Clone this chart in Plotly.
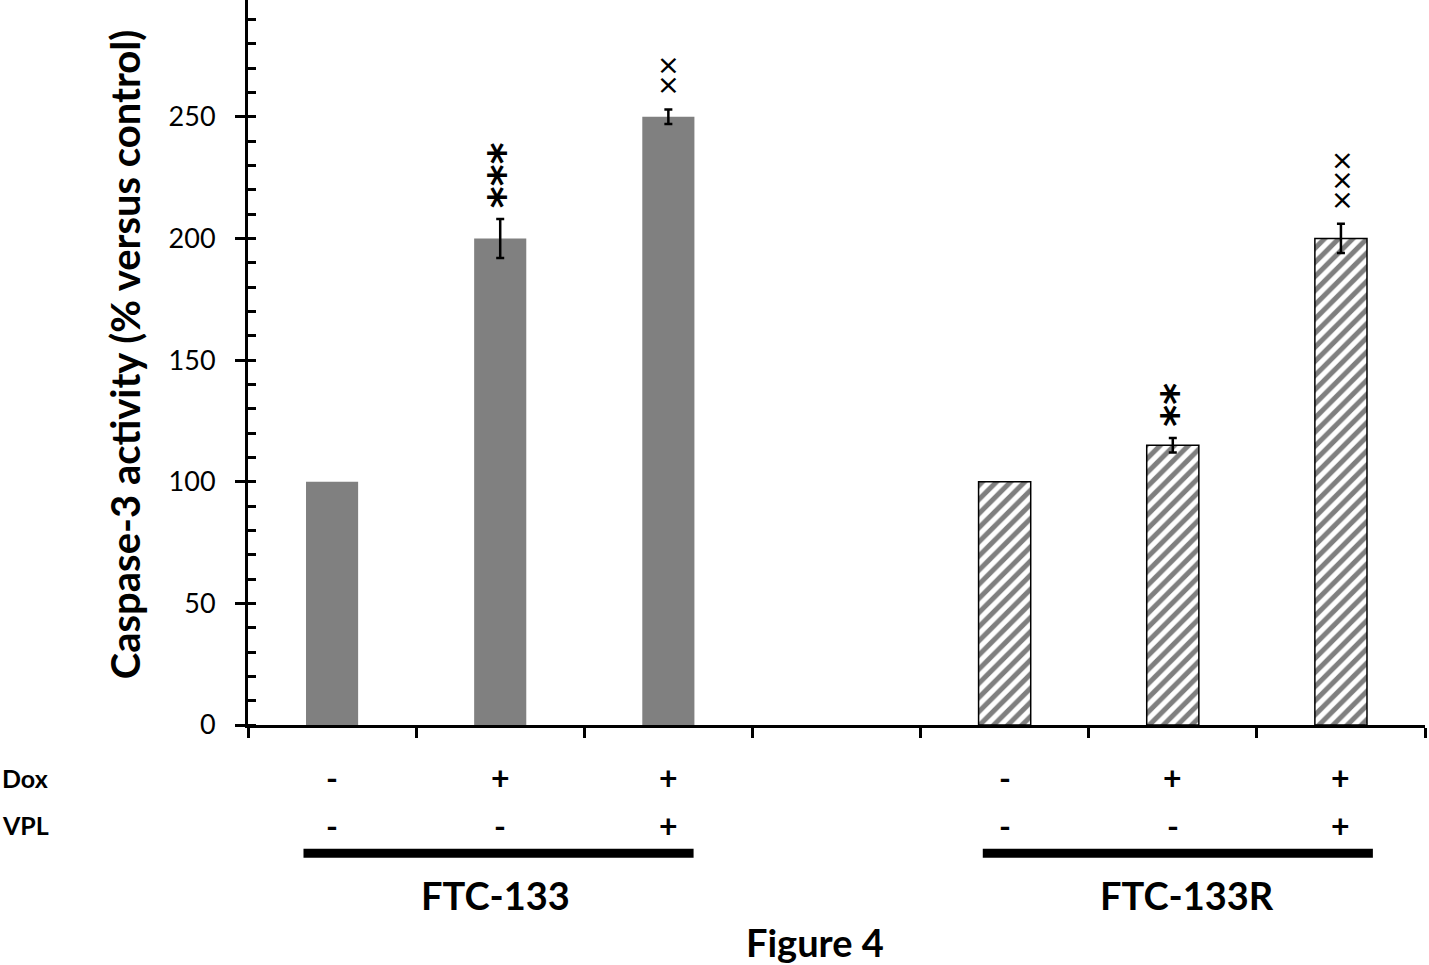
import plotly.graph_objects as go

# ---- data ----
categories = ["FTC-133 a", "FTC-133 b", "FTC-133 c", " ", "FTC-133R a", "FTC-133R b", "FTC-133R c"]
ftc_cats = ["FTC-133 a", "FTC-133 b", "FTC-133 c"]
ftc_vals = [100, 200, 250]
ftc_err = [None, 8, 3]
ftc_marks = ["", "***", "××"]

ftcr_cats = ["FTC-133R a", "FTC-133R b", "FTC-133R c"]
ftcr_vals = [100, 115, 200]
ftcr_err = [None, 3, 6]
ftcr_marks = ["", "**", "×××"]

dox = ["-", "+", "+", "-", "+", "+"]
vpl = ["-", "-", "+", "-", "-", "+"]
group_labels = ["FTC-133", "FTC-133R"]
y_title = "Caspase-3 activity (% versus control)"
fig_caption = "Figure 4"

FONT = "Lato"


def err_array(errs):
    # "NaN" strings make plotly.js skip the error bar for that point
    return ["NaN" if e is None else e for e in errs]


fig = go.Figure()

fig.add_trace(go.Bar(
    x=ftc_cats, y=ftc_vals, width=0.31,
    marker=dict(color="#808080", line=dict(width=0)),
    error_y=dict(type="data", array=err_array(ftc_err), visible=True, color="black", thickness=2.5, width=4),
    showlegend=False,
))
fig.add_trace(go.Bar(
    x=ftcr_cats, y=ftcr_vals, width=0.31,
    marker=dict(color="white", line=dict(color="black", width=1.5),
                pattern=dict(shape="/", fgcolor="black", bgcolor="white", size=10, solidity=0.5)),
    error_y=dict(type="data", array=err_array(ftcr_err), visible=True, color="black", thickness=2.5, width=4),
    showlegend=False,
))

annotations = []
# significance marks stacked vertically above error bars (rotated text = vertical stack)
for cats, vals, errs, marks in [(ftc_cats, ftc_vals, ftc_err, ftc_marks),
                                (ftcr_cats, ftcr_vals, ftcr_err, ftcr_marks)]:
    for c, v, e, m in zip(cats, vals, errs, marks):
        if not m:
            continue
        top = v + (e or 0)
        if m[0] == "*":
            fnt = dict(family="DejaVu Sans", size=42, color="black")
            ys, xs = 9, 5
            txt = "<b>%s</b>" % m
        else:
            fnt = dict(family="Lato", size=34, color="black")
            ys, xs = 12, -1
            txt = m
        annotations.append(dict(x=c, y=top, xref="x", yref="y", text=txt, showarrow=False, textangle=-90,
                                xanchor="center", yanchor="bottom", yshift=ys, xshift=xs, font=fnt))

# Dox / VPL rows
bar_cats = ftc_cats + ftcr_cats
for c, d, p in zip(bar_cats, dox, vpl):
    annotations.append(dict(x=c, y=-0.073, xref="x", yref="paper", text="<b>%s</b>" % d, showarrow=False,
                            xanchor="center", yanchor="middle", font=dict(family=FONT, size=32, color="black")))
    annotations.append(dict(x=c, y=-0.138, xref="x", yref="paper", text="<b>%s</b>" % p, showarrow=False,
                            xanchor="center", yanchor="middle", font=dict(family=FONT, size=32, color="black")))

for lab, yy in [("Dox", -0.073), ("VPL", -0.138)]:
    annotations.append(dict(x=0, y=yy, xref="paper", yref="paper", text="<b>%s</b>" % lab, showarrow=False,
                            xanchor="left", yanchor="middle", xshift=-248,
                            font=dict(family=FONT, size=25, color="black")))

# group labels
annotations.append(dict(x=1, y=-0.234, xref="x", yref="paper", text="<b>%s</b>" % group_labels[0],
                        showarrow=False, xanchor="center", yanchor="middle", xshift=-5,
                        font=dict(family=FONT, size=38, color="black")))
annotations.append(dict(x=5, y=-0.234, xref="x", yref="paper", text="<b>%s</b>" % group_labels[1],
                        showarrow=False, xanchor="center", yanchor="middle", xshift=14,
                        font=dict(family=FONT, size=38, color="black")))
annotations.append(dict(x=3, y=-0.299, xref="x", yref="paper", text="<b>%s</b>" % fig_caption,
                        showarrow=False, xanchor="center", yanchor="middle", xshift=-22,
                        font=dict(family=FONT, size=38, color="black")))
# y title
annotations.append(dict(x=-0.1045, y=0.510, xref="paper", yref="paper", text="<b>%s</b>" % y_title,
                        showarrow=False, textangle=-90, xanchor="center", yanchor="middle",
                        font=dict(family=FONT, size=40, color="black")))

shapes = [
    dict(type="line", xref="x", yref="paper", x0=-0.17, x1=2.15, y0=-0.177, y1=-0.177,
         line=dict(color="black", width=9)),
    dict(type="line", xref="x", yref="paper", x0=3.87, x1=6.19, y0=-0.177, y1=-0.177,
         line=dict(color="black", width=9)),
]

fig.update_layout(
    width=1429, height=965,
    margin=dict(l=248, r=4, t=0, b=240),
    paper_bgcolor="white", plot_bgcolor="white",
    barmode="overlay",
    annotations=annotations, shapes=shapes,
    font=dict(family=FONT, color="black"),
    xaxis=dict(type="category", categoryorder="array", categoryarray=categories,
               range=[-0.5, 6.5], showticklabels=False, tickson="boundaries",
               ticks="outside", ticklen=10, tickwidth=2.5, tickcolor="black",
               showline=True, linecolor="black", linewidth=2.5, showgrid=False, zeroline=False),
    yaxis=dict(range=[0, 298], tickvals=[0, 50, 100, 150, 200, 250],
               ticks="outside", ticklen=10, tickwidth=2.5, tickcolor="black",
               tickfont=dict(family=FONT, size=27, color="black"), ticklabelstandoff=14,
               minor=dict(dtick=10, ticks="inside", ticklen=8, tickwidth=2.5, tickcolor="black", showgrid=False),
               showline=True, linecolor="black", linewidth=3, showgrid=False, zeroline=False),
)

fig.write_html("out.html", config={"displayModeBar": False},
               post_script="document.body.style.margin='0';document.body.style.overflow='hidden';")
